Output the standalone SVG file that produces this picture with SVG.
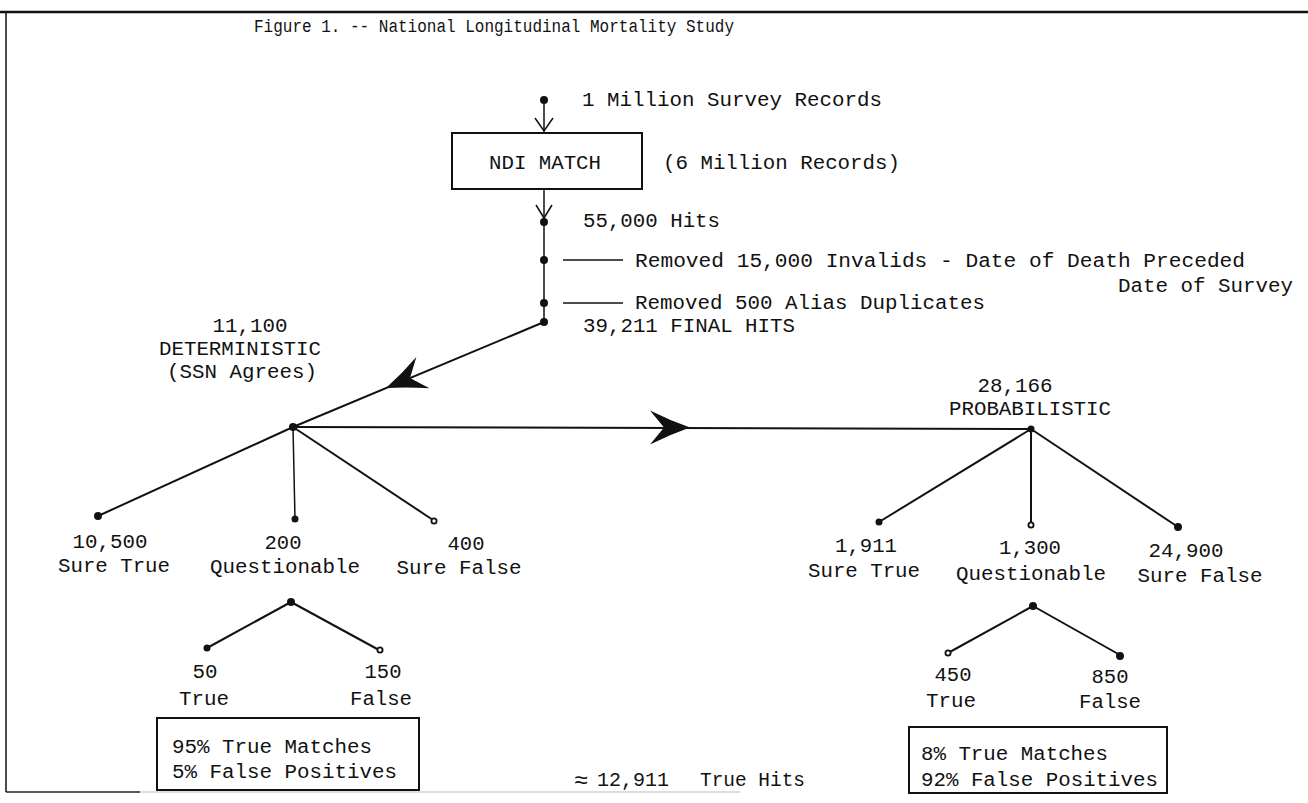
<svg xmlns="http://www.w3.org/2000/svg" width="1308" height="803" viewBox="0 0 1308 803">
<style>
text{font-family:"Liberation Mono","DejaVu Sans Mono",monospace;font-size:20px;fill:#111}
.t{font-size:19px}
.ln{stroke:#111;stroke-width:2;fill:none}
.thin{stroke:#111;stroke-width:1.5;fill:none}
.dot{fill:#111}
.od{fill:#fff;stroke:#111;stroke-width:1.8}
.box{fill:none;stroke:#111;stroke-width:2}
.m{text-anchor:middle}
</style>
<defs>
<path id="bigarrow" d="M0,0 Q-20,-7 -40,-17 L-26,0 L-40,17 Q-20,7 0,0 Z" fill="#111"/>
</defs>
<rect width="1308" height="803" fill="#fff"/>
<g id="frame">
<line x1="0" y1="12" x2="1308" y2="12" stroke="#111" stroke-width="2.5"/>
<line x1="6" y1="12" x2="6" y2="792" stroke="#111" stroke-width="1.5"/>
<line x1="6" y1="792" x2="140" y2="792" stroke="#222" stroke-width="1.5"/>
<line x1="140" y1="792" x2="740" y2="792" stroke="#bbb" stroke-width="1.2"/>
</g>
<g id="title"><text class="t" x="254" y="32" textLength="480" lengthAdjust="spacingAndGlyphs">Figure 1. -- National Longitudinal Mortality Study</text></g>
<g id="connectors">
<line class="thin" x1="544" y1="100" x2="544" y2="132"/>
<path class="thin" d="M535,118 L544,131 L553,118"/>
<line class="thin" x1="544" y1="189" x2="544" y2="322"/>
<path class="thin" d="M536,205 L544,218 L552,205"/>
<line class="thin" x1="563" y1="260" x2="623" y2="260"/>
<line class="thin" x1="563" y1="303" x2="623" y2="303"/>
<line class="ln" x1="544" y1="322" x2="293" y2="427"/>
<use href="#bigarrow" transform="translate(386,388) rotate(157.3)"/>
<line class="ln" x1="293" y1="427" x2="1031" y2="429"/>
<use href="#bigarrow" transform="translate(690,427.5)"/>
<line class="ln" x1="293" y1="427" x2="98" y2="516"/>
<line class="thin" x1="293" y1="427" x2="295" y2="519"/>
<line class="ln" x1="293" y1="427" x2="433" y2="520"/>
<line class="ln" x1="291" y1="602" x2="207" y2="648"/>
<line class="ln" x1="291" y1="602" x2="379" y2="650"/>
<line class="ln" x1="1031" y1="429" x2="879" y2="522"/>
<line class="ln" x1="1031" y1="429" x2="1031" y2="524"/>
<line class="ln" x1="1031" y1="429" x2="1178" y2="527"/>
<line class="ln" x1="1033" y1="606" x2="948" y2="653"/>
<line class="ln" x1="1033" y1="606" x2="1120" y2="655"/>
</g>
<g id="n-start"><circle class="dot" cx="544" cy="100" r="4"/><text x="582" y="106" textLength="300" lengthAdjust="spacingAndGlyphs">1 Million Survey Records</text></g>
<g id="n-ndi"><rect class="box" x="452" y="133" width="190" height="56"/><text class="m" x="545" y="169" textLength="112" lengthAdjust="spacingAndGlyphs">NDI MATCH</text><text x="663" y="169" textLength="237" lengthAdjust="spacingAndGlyphs">(6 Million Records)</text></g>
<g id="n-hits"><circle class="dot" cx="544" cy="222" r="4"/><text x="583" y="227" textLength="137" lengthAdjust="spacingAndGlyphs">55,000 Hits</text></g>
<g id="n-invalid"><circle class="dot" cx="544" cy="260" r="4"/><text x="635" y="267" textLength="610" lengthAdjust="spacingAndGlyphs">Removed 15,000 Invalids - Date of Death Preceded</text><text x="1118" y="292" textLength="175" lengthAdjust="spacingAndGlyphs">Date of Survey</text></g>
<g id="n-alias"><circle class="dot" cx="544" cy="303" r="4"/><text x="635" y="309" textLength="350" lengthAdjust="spacingAndGlyphs">Removed 500 Alias Duplicates</text></g>
<g id="n-final"><circle class="dot" cx="544" cy="322" r="4"/><text x="583" y="332" textLength="212" lengthAdjust="spacingAndGlyphs">39,211 FINAL HITS</text></g>
<g id="n-det"><circle class="dot" cx="293" cy="427" r="4"/><text class="m" x="250" y="332" textLength="75" lengthAdjust="spacingAndGlyphs">11,100</text><text class="m" x="240" y="355" textLength="162" lengthAdjust="spacingAndGlyphs">DETERMINISTIC</text><text class="m" x="242" y="378" textLength="150" lengthAdjust="spacingAndGlyphs">(SSN Agrees)</text></g>
<g id="n-prob"><circle class="dot" cx="1031" cy="429" r="3.5"/><text class="m" x="1015" y="392" textLength="75" lengthAdjust="spacingAndGlyphs">28,166</text><text class="m" x="1030" y="415" textLength="162" lengthAdjust="spacingAndGlyphs">PROBABILISTIC</text></g>
<g id="n-d-true"><circle class="dot" cx="98" cy="516" r="4"/><text class="m" x="110" y="548" textLength="75" lengthAdjust="spacingAndGlyphs">10,500</text><text class="m" x="114" y="572" textLength="112" lengthAdjust="spacingAndGlyphs">Sure True</text></g>
<g id="n-d-q"><circle class="dot" cx="295" cy="519" r="3.5"/><text class="m" x="283" y="549" textLength="37" lengthAdjust="spacingAndGlyphs">200</text><text class="m" x="285" y="573" textLength="150" lengthAdjust="spacingAndGlyphs">Questionable</text></g>
<g id="n-d-false"><circle class="od" cx="434" cy="521" r="2.6"/><text class="m" x="466" y="550" textLength="37" lengthAdjust="spacingAndGlyphs">400</text><text class="m" x="459" y="574" textLength="125" lengthAdjust="spacingAndGlyphs">Sure False</text></g>
<g id="n-d-split"><circle class="dot" cx="291" cy="602" r="4"/></g>
<g id="n-d-50"><circle class="dot" cx="207" cy="648" r="3.5"/><text class="m" x="205" y="678" textLength="25" lengthAdjust="spacingAndGlyphs">50</text><text class="m" x="204" y="705" textLength="50" lengthAdjust="spacingAndGlyphs">True</text></g>
<g id="n-d-150"><circle class="od" cx="380" cy="650" r="2.6"/><text class="m" x="383" y="678" textLength="37" lengthAdjust="spacingAndGlyphs">150</text><text class="m" x="381" y="705" textLength="62" lengthAdjust="spacingAndGlyphs">False</text></g>
<g id="n-d-box"><rect class="box" x="157" y="718" width="262" height="72"/><text x="172" y="753" textLength="200" lengthAdjust="spacingAndGlyphs">95% True Matches</text><text x="172" y="778" textLength="225" lengthAdjust="spacingAndGlyphs">5% False Positives</text></g>
<g id="n-p-true"><circle class="dot" cx="879" cy="522" r="3.5"/><text class="m" x="866" y="552" textLength="62" lengthAdjust="spacingAndGlyphs">1,911</text><text class="m" x="864" y="577" textLength="112" lengthAdjust="spacingAndGlyphs">Sure True</text></g>
<g id="n-p-q"><circle class="od" cx="1031" cy="525" r="2.6"/><text class="m" x="1030" y="554" textLength="62" lengthAdjust="spacingAndGlyphs">1,300</text><text class="m" x="1031" y="580" textLength="150" lengthAdjust="spacingAndGlyphs">Questionable</text></g>
<g id="n-p-false"><circle class="dot" cx="1178" cy="527" r="4"/><text class="m" x="1186" y="557" textLength="75" lengthAdjust="spacingAndGlyphs">24,900</text><text class="m" x="1200" y="582" textLength="125" lengthAdjust="spacingAndGlyphs">Sure False</text></g>
<g id="n-p-split"><circle class="dot" cx="1033" cy="606" r="4"/></g>
<g id="n-p-450"><circle class="od" cx="948" cy="653" r="2.6"/><text class="m" x="953" y="681" textLength="37" lengthAdjust="spacingAndGlyphs">450</text><text class="m" x="951" y="707" textLength="50" lengthAdjust="spacingAndGlyphs">True</text></g>
<g id="n-p-850"><circle class="dot" cx="1120" cy="656" r="4"/><text class="m" x="1110" y="683" textLength="37" lengthAdjust="spacingAndGlyphs">850</text><text class="m" x="1110" y="708" textLength="62" lengthAdjust="spacingAndGlyphs">False</text></g>
<g id="n-p-box"><rect class="box" x="909" y="727" width="258" height="66"/><text x="921" y="760" textLength="187" lengthAdjust="spacingAndGlyphs">8% True Matches</text><text x="921" y="786" textLength="237" lengthAdjust="spacingAndGlyphs">92% False Positives</text></g>
<g id="n-total"><text x="574" y="788" style="font-size:24px">≈</text><text x="597" y="786" textLength="72" lengthAdjust="spacingAndGlyphs">12,911</text><text x="700" y="786" textLength="105" lengthAdjust="spacingAndGlyphs">True Hits</text></g>
</svg>
